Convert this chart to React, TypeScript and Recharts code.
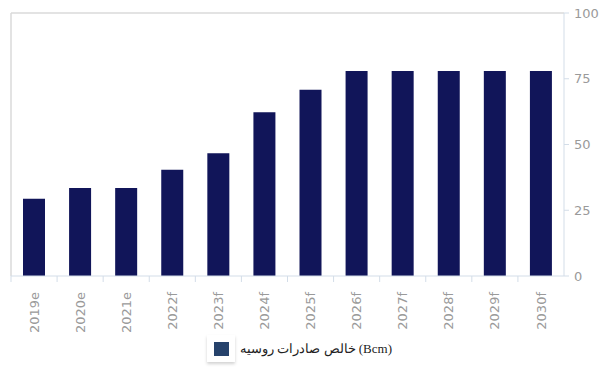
import { BarChart, Bar, XAxis, YAxis, Legend, ReferenceLine } from 'recharts';

const years = ['2019e', '2020e', '2021e', '2022f', '2023f', '2024f', '2025f', '2026f', '2027f', '2028f', '2029f', '2030f'];
const netExports = [29.4, 33.5, 33.5, 40.4, 46.7, 62.3, 70.8, 77.9, 77.9, 77.9, 77.9, 77.9];
const yTicks = [0, 25, 50, 75, 100];
const seriesName = 'خالص صادرات روسیه (Bcm)';

const data = years.map((year, i) => ({ year, value: netExports[i] }));

const BAR_COLOR = '#111559';
const AXIS_BLUE = '#d3dde8';
const FRAME_GRAY = '#dadada';
const TICK_GRAY = '#9a9a9a';

const YearTick = ({ x, y, payload }: any) => {
  const half = payload?.offset ?? 23;
  return (
    <g>
      <line x1={x - half} y1={y} x2={x - half} y2={y + 6} stroke={AXIS_BLUE} />
      <text
        transform={`translate(${x},${y + 16}) rotate(-90)`}
        textAnchor="end"
        dy="0.35em"
        fill={TICK_GRAY}
        fontSize={13}
        fontFamily="DejaVu Sans, sans-serif"
      >
        {payload.value}
      </text>
    </g>
  );
};

const LegendBox = ({ payload }: any) => (
  <div style={{ display: 'flex', alignItems: 'center' }}>
    {(payload || []).map((p: any) => (
      <div key={p.value} style={{ display: 'flex', alignItems: 'center' }}>
        <div
          style={{
            width: 28,
            height: 27,
            background: '#fff',
            boxShadow: '0 2px 3px rgba(0,0,0,0.18)',
            display: 'flex',
            alignItems: 'center',
            justifyContent: 'center',
          }}
        >
          <div style={{ width: 15, height: 14, background: '#26426b' }} />
        </div>
        <span
          style={{
            marginLeft: 5,
            fontSize: 13,
            color: '#222',
            fontFamily: '"Liberation Serif", "DejaVu Serif", serif',
            whiteSpace: 'nowrap',
          }}
        >
          {p.value}
        </span>
      </div>
    ))}
  </div>
);

export default function App() {
  return (
    <div style={{ position: 'absolute', left: 0, top: 0, width: 607, height: 371, background: '#fff' }}>
      <BarChart width={607} height={371} data={data} margin={{ top: 13, right: 0, left: 11, bottom: 35 }}>
        <XAxis
          dataKey="year"
          height={60}
          interval={0}
          axisLine={{ stroke: AXIS_BLUE }}
          tickLine={false}
          tickSize={0}
          tickMargin={0}
          tick={<YearTick />}
        />
        <YAxis
          orientation="right"
          width={43}
          domain={[0, 100]}
          ticks={yTicks}
          axisLine={{ stroke: AXIS_BLUE }}
          tickLine={{ stroke: AXIS_BLUE }}
          tickSize={5}
          tickMargin={5}
          tick={{ fill: TICK_GRAY, fontSize: 13, fontFamily: 'DejaVu Sans, sans-serif' }}
        />
        <ReferenceLine y={100} stroke={FRAME_GRAY} strokeWidth={1.5} />
        <ReferenceLine x={years[0]} position="start" stroke={FRAME_GRAY} strokeWidth={1.5} />
        <Legend
          verticalAlign="middle"
          align="center"
          layout="horizontal"
          wrapperStyle={{ position: 'absolute', left: 207, top: 335, width: 250 }}
          content={<LegendBox />}
        />
        <Bar dataKey="value" name={seriesName} fill={BAR_COLOR} barSize={22} isAnimationActive={false} />
      </BarChart>
    </div>
  );
}
